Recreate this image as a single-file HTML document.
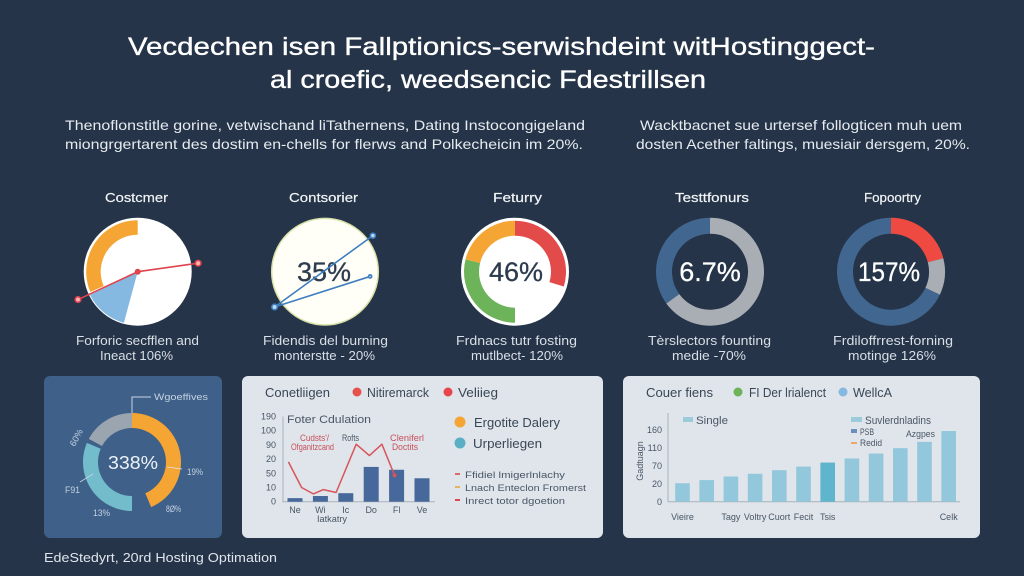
<!DOCTYPE html>
<html lang="en">
<head>
<meta charset="utf-8">
<title>Hosting Optimisation Infographic</title>
<style>
html,body{margin:0;padding:0;background:#253448;}
svg{display:block;}
text{font-family:"Liberation Sans",sans-serif;}
.ttl{font-size:25px;fill:#fff;stroke:#fff;stroke-width:.35px;text-anchor:start;}
.para{font-size:14px;fill:#e6ebf0;}
.gt{font-size:13px;fill:#f2f4f6;stroke:#f2f4f6;stroke-width:.2px;}
.cap{font-size:12.5px;fill:#d9dfe6;}
.val{stroke-width:.3px;}
.ph{font-size:13px;fill:#3a4656;}
.sm{font-size:11px;fill:#4a5666;}
.xs{font-size:9px;fill:#4a5666;}
.red{font-size:9px;fill:#c8505c;}
.pl{font-size:9px;fill:#c3d2e2;}
</style>
</head>
<body>
<svg id="root" width="1024" height="576" viewBox="0 0 1024 576" xmlns="http://www.w3.org/2000/svg">
  <rect width="1024" height="576" fill="#253448"/>

  <text class="ttl" x="128" y="55" textLength="747" lengthAdjust="spacingAndGlyphs">Vecdechen isen Fallptionics-serwishdeint witHostinggect-</text>
  <text class="ttl" x="270" y="88" textLength="436" lengthAdjust="spacingAndGlyphs">al croefic, weedsencic Fdestrillsen</text>

  <text class="para" x="65" y="130" textLength="520" lengthAdjust="spacingAndGlyphs">Thenoflonstitle gorine, vetwischand liTathernens, Dating Instocongigeland</text>
  <text class="para" x="65" y="149" textLength="518" lengthAdjust="spacingAndGlyphs">miongrgertarent des dostim en-chells for flerws and Polkecheicin im 20%.</text>
  <text class="para" x="640" y="130" textLength="322" lengthAdjust="spacingAndGlyphs">Wacktbacnet sue urtersef follogticen muh uem</text>
  <text class="para" x="636" y="149" textLength="334" lengthAdjust="spacingAndGlyphs">dosten Acether faltings, muesiair dersgem, 20%.</text>

  <text class="gt" x="105" y="202" textLength="63" lengthAdjust="spacingAndGlyphs">Costcmer</text>
  <text class="gt" x="289" y="202" textLength="69" lengthAdjust="spacingAndGlyphs">Contsorier</text>
  <text class="gt" x="493" y="202" textLength="49" lengthAdjust="spacingAndGlyphs">Feturry</text>
  <text class="gt" x="675" y="202" textLength="74" lengthAdjust="spacingAndGlyphs">Testtfonurs</text>
  <text class="gt" x="864" y="202" textLength="57" lengthAdjust="spacingAndGlyphs">Fopoortry</text>

  <g id="gauges"></g>

  <text class="val" x="324" y="281" font-size="27" fill="#2d3b4e" stroke="#2d3b4e" text-anchor="middle">35%</text>
  <text class="val" x="516" y="281" font-size="27" fill="#2d3b4e" stroke="#2d3b4e" text-anchor="middle">46%</text>
  <text class="val" x="710" y="281" font-size="27" fill="#fff" stroke="#fff" text-anchor="middle">6.7%</text>
  <text class="val" x="889" y="281" font-size="27" fill="#fff" stroke="#fff" text-anchor="middle" textLength="62" lengthAdjust="spacingAndGlyphs">157%</text>

  <text class="cap" x="76" y="345" textLength="123" lengthAdjust="spacingAndGlyphs">Forforic secfflen and</text>
  <text class="cap" x="100" y="360" textLength="73" lengthAdjust="spacingAndGlyphs">Ineact 106%</text>
  <text class="cap" x="263" y="345" textLength="125" lengthAdjust="spacingAndGlyphs">Fidendis del burning</text>
  <text class="cap" x="274" y="360" textLength="101" lengthAdjust="spacingAndGlyphs">monterstte - 20%</text>
  <text class="cap" x="456" y="345" textLength="121" lengthAdjust="spacingAndGlyphs">Frdnacs tutr fosting</text>
  <text class="cap" x="471" y="360" textLength="92" lengthAdjust="spacingAndGlyphs">mutlbect- 120%</text>
  <text class="cap" x="648" y="345" textLength="123" lengthAdjust="spacingAndGlyphs">Tèrslectors founting</text>
  <text class="cap" x="672" y="360" textLength="74" lengthAdjust="spacingAndGlyphs">medie -70%</text>
  <text class="cap" x="833" y="345" textLength="120" lengthAdjust="spacingAndGlyphs">Frdiloffrrest-forning</text>
  <text class="cap" x="848" y="360" textLength="88" lengthAdjust="spacingAndGlyphs">motinge 126%</text>

  <!-- Left donut panel -->
  <rect x="44" y="376" width="178" height="162" rx="6" fill="#3f6089"/>
  <g id="donut"></g>
  <polyline points="132,413 132,397 151,397" fill="none" stroke="#c9d5e2" stroke-width="1"/>
  <line x1="167" y1="467" x2="182" y2="469" stroke="#dfe6ee" stroke-width="0.8"/>
  <line x1="80" y1="482" x2="93" y2="474" stroke="#c9d5e2" stroke-width="0.8"/>
  <text x="108" y="469" font-size="18" fill="#eef2f6" textLength="50" lengthAdjust="spacingAndGlyphs">338%</text>
  <text class="pl" x="154" y="400" textLength="54" lengthAdjust="spacingAndGlyphs">Wgoeffives</text>
  <text class="pl" x="187" y="475" textLength="16" lengthAdjust="spacingAndGlyphs">19%</text>
  <text class="pl" x="166" y="512" textLength="15" lengthAdjust="spacingAndGlyphs">8Ø%</text>
  <text class="pl" x="93" y="516" textLength="17" lengthAdjust="spacingAndGlyphs">13%</text>
  <text class="pl" x="65" y="493" textLength="15" lengthAdjust="spacingAndGlyphs">F91</text>
  <text class="pl" x="0" y="0" text-anchor="middle" transform="translate(79,439) rotate(-62)">60%</text>
  <text x="44" y="562" font-size="13" fill="#dfe5ec" textLength="233" lengthAdjust="spacingAndGlyphs">EdeStedyrt, 20rd Hosting Optimation</text>

  <!-- Middle panel -->
  <rect x="242" y="376" width="361" height="162" rx="6" fill="#dfe5ea"/>
  <text class="ph" x="265" y="397" textLength="65" lengthAdjust="spacingAndGlyphs">Conetliigen</text>
  <circle cx="357" cy="392" r="4.5" fill="#e8504c"/>
  <text class="ph" x="367" y="397" textLength="62" lengthAdjust="spacingAndGlyphs">Nitiremarck</text>
  <circle cx="448" cy="392" r="4.5" fill="#e8444c"/>
  <text class="ph" x="458" y="397" textLength="40" lengthAdjust="spacingAndGlyphs">Veliieg</text>
  <text class="sm" x="287" y="423" textLength="84" lengthAdjust="spacingAndGlyphs">Foter Cdulation</text>
  <g id="combo"></g>
  <text class="red" x="300" y="441" textLength="29" lengthAdjust="spacingAndGlyphs">Cudsts'/</text>
  <text class="red" x="291" y="450" textLength="43" lengthAdjust="spacingAndGlyphs">Ofganitzcand</text>
  <text class="xs" x="342" y="441" textLength="17" lengthAdjust="spacingAndGlyphs">Rofts</text>
  <text class="red" x="390" y="441" textLength="34" lengthAdjust="spacingAndGlyphs">Cleniferl</text>
  <text class="red" x="392" y="450" textLength="26" lengthAdjust="spacingAndGlyphs">Doctits</text>
  <text class="xs" x="317" y="522" textLength="30" lengthAdjust="spacingAndGlyphs">Iatkatry</text>

  <circle cx="460" cy="422" r="5.5" fill="#f5a533"/>
  <text class="ph" x="474" y="427" textLength="86" lengthAdjust="spacingAndGlyphs">Ergotite Dalery</text>
  <circle cx="460" cy="443" r="5.5" fill="#5aafc4"/>
  <text class="ph" x="473" y="448" textLength="69" lengthAdjust="spacingAndGlyphs">Urperliegen</text>
  <rect x="455" y="473" width="5" height="2" fill="#d9696b"/>
  <text class="xs" x="465" y="478" font-size="10" textLength="100" lengthAdjust="spacingAndGlyphs">Ffidiel lmigerlnlachy</text>
  <rect x="455" y="486" width="5" height="2" fill="#e3b45e"/>
  <text class="xs" x="465" y="491" textLength="121" lengthAdjust="spacingAndGlyphs">Lnach Enteclon Fromerst</text>
  <rect x="455" y="499" width="5" height="2" fill="#e0474e"/>
  <text class="xs" x="465" y="504" textLength="100" lengthAdjust="spacingAndGlyphs">Inrect totor dgoetion</text>

  <!-- Right panel -->
  <rect x="623" y="376" width="357" height="162" rx="6" fill="#dfe5ea"/>
  <text class="ph" x="646" y="397" textLength="67" lengthAdjust="spacingAndGlyphs">Couer fiens</text>
  <circle cx="738" cy="392" r="4.5" fill="#6db35a"/>
  <text class="ph" x="749" y="397" textLength="77" lengthAdjust="spacingAndGlyphs">FI Der lrialenct</text>
  <circle cx="843" cy="392" r="4.5" fill="#85b9e2"/>
  <text class="ph" x="853" y="397" textLength="39" lengthAdjust="spacingAndGlyphs">WellcA</text>
  <g id="bars"></g>
  <rect x="683" y="417" width="10" height="5" fill="#9ccbdc"/>
  <text class="sm" x="696" y="424" textLength="32" lengthAdjust="spacingAndGlyphs">Single</text>
  <rect x="851" y="417" width="11" height="5" fill="#9ccbdc"/>
  <text class="sm" x="865" y="424" textLength="66" lengthAdjust="spacingAndGlyphs">Suvlerdnladins</text>
  <rect x="851" y="429" width="6" height="4" fill="#6d8fbe"/>
  <text class="xs" x="860" y="435" textLength="14" lengthAdjust="spacingAndGlyphs">PSB</text>
  <rect x="851" y="442" width="6" height="2" fill="#eda66a"/>
  <text class="xs" x="860" y="446" textLength="22" lengthAdjust="spacingAndGlyphs">Redid</text>
  <text class="xs" x="906" y="437" textLength="29" lengthAdjust="spacingAndGlyphs">Azgpes</text>
  <text class="xs" x="0" y="0" text-anchor="middle" transform="translate(643,461) rotate(-90)">Gadtuagn</text>
</svg>

<script>
/* Gauge data: shares are percent of the circle, clockwise from 12 o'clock; null colour = unfilled */
var gauge1RingShares = [68.6, 31.4];
var gauge1WedgeShares = [54.2, 13.6, 32.2];
var gauge3Shares = [29.7, 20.3, 28.9, 21.1];
var gauge4Shares = [65, 35];
var gauge5Shares = [21, 11, 68];
var donutShares = [43.6, 6.4, 31.4, 1.4, 17.2];
/* Overlay lines on gauges: polar readings (degrees, radius as share of the disc radius) */
var gauge1LineAngles = [245, 0, 82];
var gauge1LineRadii = [1.22, 0, 1.13];
var gauge2LineAngles = [235, 53, 96];
var gauge2LineRadii = [1.14, 1.11, 0.84];

/* Combo chart */
var comboCategories = ["Ne", "Wi", "Ic", "Do", "Fl", "Ve"];
var comboBarValues = [5, 8, 12, 49, 45, 33];
var comboLineSteps = [-0.26, 0.26, 0.72, 1.12, 1.62, 2.41, 2.93, 3.42, 3.92];
var comboLineValues = [56, 20, 11, 17, 13, 81, 65, 81, 37];
var comboTickValues = [0, 20, 40, 60, 80, 100, 120];
var comboTickLabels = ["0", "10", "50", "20", "90", "100", "190"];

/* Bar chart */
var barValues = [41, 48, 56, 62, 70, 78, 87, 96, 107, 119, 133, 157];
var barLabels = ["Vieire", "", "Tagy", "Voltry", "Cuort", "Fecit", "Tsis", "", "", "", "", "Celk"];
var barTickValues = [0, 40, 80, 120, 160];
var barTickLabels = ["0", "20", "70", "110", "160"];

var NS = "http://www.w3.org/2000/svg";
function make(parent, tag, attrs, txt) {
  var el = document.createElementNS(NS, tag);
  for (var k in attrs) el.setAttribute(k, attrs[k]);
  if (txt !== undefined) el.textContent = txt;
  parent.appendChild(el);
  return el;
}
function polar(cx, cy, r, deg) {
  var a = (deg - 90) * Math.PI / 180;
  return [cx + r * Math.cos(a), cy + r * Math.sin(a)];
}
function arcPath(cx, cy, r0, r1, a0, a1) {
  var p0 = polar(cx, cy, r1, a0), p1 = polar(cx, cy, r1, a1);
  var q1 = polar(cx, cy, r0, a1), q0 = polar(cx, cy, r0, a0);
  var large = (a1 - a0) > 180 ? 1 : 0;
  return "M" + p0[0] + " " + p0[1] + "A" + r1 + " " + r1 + " 0 " + large + " 1 " + p1[0] + " " + p1[1] +
    "L" + q1[0] + " " + q1[1] + (r0 > 0 ? "A" + r0 + " " + r0 + " 0 " + large + " 0 " + q0[0] + " " + q0[1] : "") + "Z";
}
function ring(parent, shares, colors, cx, cy, r0, r1, name) {
  var total = shares.reduce(function (a, b) { return a + b; }, 0), start = 0;
  shares.forEach(function (s, i) {
    var end = start + s / total * 360;
    if (colors[i]) {
      var seg = make(parent, "path", { d: arcPath(cx, cy, r0, r1, start, end), fill: colors[i] });
      
      
    }
    start = end;
  });
}
function disc(parent, cx, cy, r, fill, stroke, name) {
  var c = make(parent, "circle", { cx: cx, cy: cy, r: r, fill: fill, stroke: stroke || "none", "stroke-width": stroke ? 1.5 : 0 });
  
  
}
function polarPoints(cx, cy, R, angs, radii) {
  return angs.map(function (a, i) { return polar(cx, cy, radii[i] * R, a); });
}
function seg(parent, p, q, color, width, name) {
  var l = make(parent, "line", { x1: p[0], y1: p[1], x2: q[0], y2: q[1], stroke: color, "stroke-width": width, "stroke-linecap": "round" });
  
  
}
function node(parent, p, color, r, fill, name) {
  var c = make(parent, "circle", { cx: p[0], cy: p[1], r: r, fill: fill, stroke: color, "stroke-width": 1.6 });
  
  
}

/* Gauges */
var G = document.getElementById("gauges");
var R = 54, CY = 271.7;

disc(G, 137.7, CY, R, "#ffffff", null, "gauge-1-disc");
ring(G, gauge1RingShares, [null, "#f5a533"], 137.7, CY, 37, 51.5, "gauge-1-ring");
ring(G, gauge1WedgeShares, [null, "#85b9e2", null], 137.7, CY, 0, 53, "gauge-1-wedge");
var g1 = polarPoints(137.7, CY, R, gauge1LineAngles, gauge1LineRadii);
seg(G, g1[0], g1[1], "#e0444e", 1.6, "gauge-1-line-left");
seg(G, g1[1], g1[2], "#e0444e", 1.6, "gauge-1-line-right");
node(G, g1[0], "#e0444e", 2.8, "#ffb3b3", "gauge-1-point-left");
node(G, g1[1], "#e0444e", 2.2, "#e0444e", "gauge-1-point-center");
node(G, g1[2], "#e0444e", 2.8, "#ffb3b3", "gauge-1-point-right");

disc(G, 325, CY, R - 0.7, "#fffff8", "#d8e2a8", "gauge-2-disc");

disc(G, 515, CY, R, "#ffffff", null, "gauge-3-disc");
ring(G, gauge3Shares, ["#e34a4a", null, "#6db35a", "#f5a533"], 515, CY, 36, 51, "gauge-3-ring");

ring(G, gauge4Shares, ["#a8aeb4", "#41668f"], 710, CY, 38, R, "gauge-4-ring");
ring(G, gauge5Shares, ["#ef4a42", "#a8aeb4", "#41668f"], 891, CY, 38, R, "gauge-5-ring");

/* Overlay on gauge 2 is drawn after its value text */
var overlay = make(document.getElementById("root"), "g", {});


var g2 = polarPoints(325, CY, R, gauge2LineAngles, gauge2LineRadii);
seg(overlay, g2[0], g2[1], "#3f7fbf", 1.6, "gauge-2-line-upper");
seg(overlay, g2[0], g2[2], "#3f7fbf", 1.6, "gauge-2-line-lower");
node(overlay, g2[0], "#3f7fbf", 2.8, "#bcd8f0", "gauge-2-point-origin");
node(overlay, g2[1], "#3f7fbf", 2.5, "#bcd8f0", "gauge-2-point-upper");
node(overlay, g2[2], "#3f7fbf", 1.6, "#bcd8f0", "gauge-2-point-lower");

/* Donut */
ring(document.getElementById("donut"), donutShares, ["#f5a533", null, "#72bccb", null, "#9aa5b0"], 132, 462, 34, 49, "donut");

/* Combo chart */
var C = document.getElementById("combo");
function comboY(v) { return 501.7 - v * 0.71; }
function comboX(i) { return 295 + i * 25.4; }

var cax = make(C, "polyline", { points: "283," + comboY(comboTickValues[comboTickValues.length - 1]) + " 283," + comboY(0) + " 435," + comboY(0), fill: "none", stroke: "#a9b2bb", "stroke-width": 1 });



comboTickValues.forEach(function (v, i) {
  var t = make(C, "text", { x: 276, y: comboY(v) + 3, "text-anchor": "end", class: "xs" }, comboTickLabels[i]);
  
  
});
comboCategories.forEach(function (c, i) {
  var b = make(C, "rect", { x: comboX(i) - 7.5, y: comboY(comboBarValues[i]), width: 15, height: 501.7 - comboY(comboBarValues[i]), fill: "#46689a" });
  
  
  var t = make(C, "text", { x: comboX(i), y: 513, "text-anchor": "middle", class: "xs" }, c);
  
  
});
var linePts = comboLineValues.map(function (v, i) { return comboX(comboLineSteps[i]).toFixed(1) + "," + comboY(v).toFixed(1); }).join(" ");
var cl = make(C, "polyline", { points: linePts, fill: "none", stroke: "#d9545c", "stroke-width": 1.5, "stroke-linejoin": "round" });


var lastIndex = comboLineValues.length - 1;
var lastDot = make(C, "circle", { cx: comboX(comboLineSteps[lastIndex]), cy: comboY(comboLineValues[lastIndex]), r: 2, fill: "#d9545c" });



/* Bar chart */
var B = document.getElementById("bars");
function barY(v) { return 501.7 - v * 0.45; }
function barX(i) { return 682.5 + i * 24.2; }

var bax = make(B, "polyline", { points: "668,413 668," + barY(0) + " 960," + barY(0), fill: "none", stroke: "#a9b2bb", "stroke-width": 1 });



barTickValues.forEach(function (v, i) {
  var t = make(B, "text", { x: 662, y: barY(v) + 3.5, "text-anchor": "end", class: "xs", "font-size": 10 }, barTickLabels[i]);
  
  
});
barValues.forEach(function (v, i) {
  var b = make(B, "rect", { x: barX(i) - 7.3, y: barY(v), width: 14.6, height: 501.7 - barY(v), fill: i === 6 ? "#5fb6cc" : "#93c7db" });
  
  
  if (barLabels[i]) {
    var t = make(B, "text", { x: barX(i), y: 520, "text-anchor": "middle", class: "xs", "font-size": 9.5 }, barLabels[i]);
    
    
  }
});
</script>
</body>
</html>
